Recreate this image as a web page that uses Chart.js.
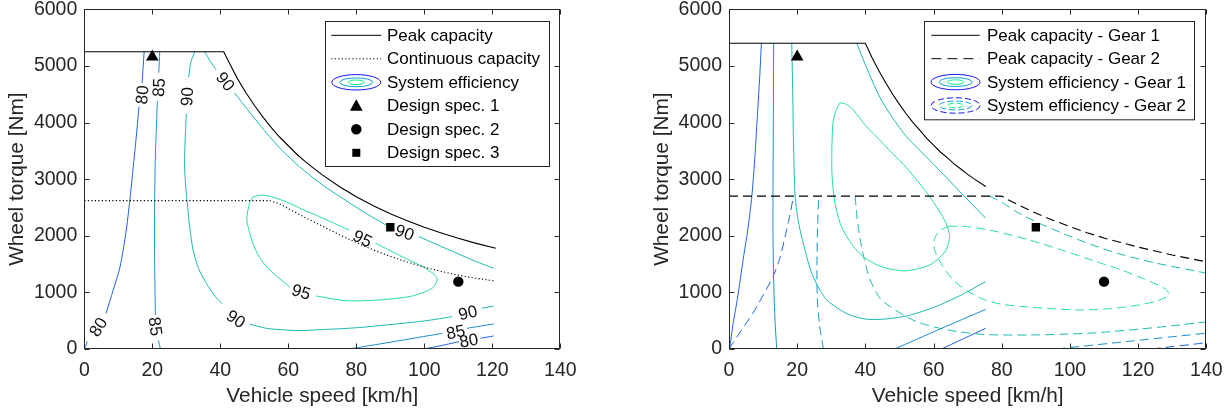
<!DOCTYPE html>
<html>
<head>
<meta charset="utf-8">
<script src="https://cdn.jsdelivr.net/npm/chart.js@4.4.1/dist/chart.umd.min.js"></script>
<style>
  body { margin: 0; background: #fff; width: 1232px; height: 411px; overflow: hidden; position: relative; }
  canvas { position: absolute; top: 0; }
</style>
</head>
<body>
<canvas id="leftChart" width="616" height="411" style="left:0"></canvas>
<canvas id="rightChart" width="616" height="411" style="left:616px"></canvas>
<script>
// axis ticks
const speedTicks = [0, 20, 40, 60, 80, 100, 120, 140];
const torqueTicks = [0, 1000, 2000, 3000, 4000, 5000, 6000];

// design specs [speed km/h, torque Nm]
const spec1 = [20, 5160];
const spec2 = [110, 1190];
const spec3 = [90, 2150];

// ---- left plot: single gear ----
const peakCap = [[0,5250],[41,5250],[43,5010],[45,4780],[47.5,4530],[50,4305],[52.5,4100],[55,3910],[57.5,3740],[60,3590],[62.5,3440],
  [65,3310],[67.5,3190],[70,3075],[75,2870],[80,2690],[85,2530],[90,2390],[95,2265],[100,2150],[105,2050],[110,1955],[115,1870],[121,1780]];
const contCap = [[0,2620],[54.5,2620],[57,2575],[60,2480],[65,2320],[70,2170],[75,2020],[80,1880],[85,1750],[90,1635],[95,1535],
  [100,1445],[105,1370],[110,1305],[115,1250],[121,1200]];

// efficiency contours (null = gap for a label / new piece)
const eff80 = [[0,0],[0.9,130],null,[6.4,630],[8.5,1040],[10.5,1450],[12.2,2040],[13.4,2630],[14.4,3220],[15.2,3700],[16.1,4280],null,
  [17.0,4700],[17.6,5250],null,[99.9,0],[105,60],[110.2,130],null,[116.5,190],[120.4,230]];
const eff85 = [[22.4,0],[21.8,150],null,[20.9,600],[20.7,1500],[20.7,2630],[20.9,3400],[21.2,3900],[21.5,4380],null,
  [21.9,4880],[22.2,5250],null,[77.9,0],[90,120],[105.3,277],null,[112.6,366],[120.4,442]];
const eff90 = [[32.5,5250],[31.3,5060],[30.7,4800],null,[30.0,4150],[29.6,3600],[29.5,3220],[29.8,2900],[30.2,2630],[31.0,2150],[32.0,1750],
  [33.6,1420],[35.9,1160],[38.5,930],[40.5,800],null,[48.6,440],[53.5,366],[58,340],[63.3,325],[69,340],[80,375],[88.7,424],[100,495],
  [108.2,571],null,[117,719],[120.4,760],null,
  [35.4,5250],[37,5090],[38.8,4930],null,[44.2,4520],[48,4230],[53.5,3820],[58,3520],[63.3,3220],[70,2900],[77,2620],[83,2390],[89.6,2160],null,
  [98.4,1985],[105,1810],[110,1680],[115,1550],[120.4,1426]];
const eff95 = [[49.6,2690],[52.5,2720],[55,2690],[59.4,2600],[64,2470],[69.1,2340],[73.5,2220],[77.9,2100],null,[85.7,1867],[93.5,1630],
  [100.4,1426],[103.2,1300],[103.8,1219],[102.3,1072],[96.5,936],[86.7,866],[77,853],[68.2,936],null,[60.3,1101],[54.5,1396],[51.5,1620],
  [49.6,1867],[47.8,2280],[48.6,2574],[49.6,2690]];

// contour labels [text, speed, torque, angle deg]
const effLabels = [
  ['80', 17.0, 4490, -85], ['85', 21.9, 4620, -88], ['90', 30.2, 4460, -88], ['90', 41.5, 4725, 52],
  ['80', 4.1, 390, -58], ['85', 20.9, 400, 82], ['90', 44.6, 530, 33], ['95', 81.8, 1950, 26],
  ['95', 63.8, 1010, 17], ['90', 94.2, 2060, 20], ['90', 112.8, 640, -14], ['85', 109.2, 300, -11],
  ['80', 113.1, 150, -10]
];

// ---- right plot: two gears ----
const peakG1 = [[0,5400],[40,5400],[42,5140],[44,4910],[46,4700],[48,4500],[50,4320],[52,4150],[54,4000],[56,3860],[58,3720],[60,3600],
  [62,3480],[64,3380],[66,3270],[68,3180],[70,3085],[72,3000],[75.3,2870]];
const peakG2 = [[0,2700],[80,2700],[82,2630],[85,2540],[88,2455],[90,2400],[95,2275],[100,2160],[105,2055],[110,1960],[115,1880],
  [120,1800],[125,1730],[130,1660],[135,1600],[140,1540]];

const g1eff80 = [[0.2,0],[1.2,450],[2.5,900],[4.2,1600],[5.5,2100],[6.7,2700],[7.6,3400],[8.2,4000],[9.0,4800],[9.5,5400],null,[62.3,0],[75.3,366]];
const g1eff85 = [[14.0,0],[13.5,500],[13.1,1200],[12.9,2000],[12.9,2700],[13.0,4000],[13.1,5400],null,[48.6,0],[61.8,350],[75.3,700]];
const g1eff90 = [[18.4,5400],[18.7,4500],[18.9,3700],[19.4,2700],[20.5,2200],[22.8,1630],[24.5,1300],[26.7,1040],[28.6,870],[32.6,690],
  [36,590],[40.4,525],[46,530],[52.1,583],[57,670],[61.8,777],[68,950],[75.3,1190],null,
  [37.5,5400],[40,5020],[44.2,4450],[48,4080],[52.1,3750],[58.9,3330],[65,2950],[70.1,2630],[75.3,2310]];
const g1eff95 = [[32.6,4350],[31.3,4200],[30.5,3990],[30.2,3600],[30.2,3100],[31,2600],[32.6,2220],[34.5,1990],[36.5,1810],[39,1650],
  [42.4,1515],[46,1430],[51,1380],[55,1410],[58.9,1485],[61.5,1600],[63.7,1750],[64.7,1985],[63.7,2220],[61.5,2450],[58.9,2690],
  [55.5,2950],[52.1,3200],[48,3450],[44.2,3690],[40,3950],[36.5,4220],[34.5,4320],[32.6,4350]];

const g2eff80 = [[0,0],[3.5,320],[7.1,640],[10,950],[13,1290],[15,1620],[16.5,2000],[17.8,2350],[18.9,2700],null,[124,0],[140,110]];
const g2eff85 = [[27.7,0],[26.6,400],[25.9,900],[25.8,1500],[26.0,2200],[26.3,2700],null,[96,0],[118,140],[140,280]];
const g2eff90 = [[37,2700],[37.6,2300],[38.5,1930],[39.8,1550],[41.4,1220],[44.2,900],[47,760],[52,571],[56,460],[61.8,366],[68,300],
  [75,255],[88,247],[100,265],[108,288],[120,350],[130,410],[140,480],null,
  [76.4,2700],[80,2590],[85,2400],[91,2220],[100,1990],[107,1830],[114.5,1680],[125,1520],[140,1340]];
const g2eff95 = [[64.7,2170],[62,2100],[60.3,1950],[60.3,1750],[62.5,1480],[65.7,1220],[70,1020],[74.5,880],[80,790],[88.1,740],[95,710],
  [102.8,690],[110,705],[117.4,750],[125,840],[129.1,950],[128,1060],[122,1230],[115,1400],[107.7,1543],[98,1740],[88.1,1926],
  [78,2080],[70,2160],[64.7,2170]];

const legendLeft = ['Peak capacity', 'Continuous capacity', 'System efficiency', 'Design spec. 1', 'Design spec. 2', 'Design spec. 3'];
const legendRight = ['Peak capacity - Gear 1', 'Peak capacity - Gear 2', 'System efficiency - Gear 1', 'System efficiency - Gear 2'];

// ------------------------------------------------------------------
const FONT = '"Liberation Sans", Arial, Helvetica, sans-serif';
const AX = '#262626';
const C80 = '#1a62e4', C85 = '#1790cc', C90 = '#19b8b2', C95 = '#24df9c';
const DOT = [1.2, 2.3], DASH = [9, 5];

function pts(arr) {
  return arr.map((p, i) => p ? {x: p[0], y: p[1]} : {x: arr[i - 1][0], y: null});
}
function line(arr, color, dash, width, tension) {
  return {data: pts(arr), showLine: true, borderColor: color, borderWidth: width || 1, borderDash: dash || [],
    pointRadius: 0, pointHoverRadius: 0, tension: tension === undefined ? 0.25 : tension, fill: false};
}
function marker(p, style, r) {
  return {data: [{x: p[0], y: p[1]}], showLine: false, pointStyle: style, pointRadius: r,
    backgroundColor: '#000', borderColor: '#000', borderWidth: 0};
}

function drawIcon(ctx, icon, x0, x1, cy) {
  const cx = (x0 + x1) / 2;
  ctx.save();
  ctx.lineWidth = 1;
  ctx.strokeStyle = '#000';
  ctx.fillStyle = '#000';
  if (icon === 'solid' || icon === 'dotted' || icon === 'dashed') {
    ctx.setLineDash(icon === 'dotted' ? DOT : icon === 'dashed' ? [10, 6] : []);
    ctx.beginPath(); ctx.moveTo(x0, cy); ctx.lineTo(x1, cy); ctx.stroke();
  } else if (icon === 'ell' || icon === 'ellDash') {
    ctx.setLineDash(icon === 'ellDash' ? [6, 3] : []);
    [[24.5, 7.7, '#1414f2'], [16.5, 4.4, '#14a0d6'], [8, 2.3, '#14ee90']].forEach(([rx, ry, c]) => {
      ctx.strokeStyle = c;
      ctx.beginPath(); ctx.ellipse(cx, cy, rx, ry, 0, 0, Math.PI * 2); ctx.stroke();
    });
  } else if (icon === 'tri') {
    ctx.beginPath(); ctx.moveTo(cx, cy - 6.5); ctx.lineTo(cx + 6.4, cy + 5); ctx.lineTo(cx - 6.4, cy + 5); ctx.closePath(); ctx.fill();
  } else if (icon === 'circ') {
    ctx.beginPath(); ctx.arc(cx, cy, 5.2, 0, Math.PI * 2); ctx.fill();
  } else if (icon === 'sq') {
    ctx.fillRect(cx - 4, cy - 4, 8, 8);
  }
  ctx.restore();
}

const axesBox = {
  id: 'axesBox',
  afterDraw(chart) {
    const {ctx, chartArea: a, scales: {x, y}} = chart;
    ctx.save();
    ctx.strokeStyle = AX;
    ctx.lineWidth = 1;
    const L = Math.round(a.left) + 0.5, R = Math.round(a.right) - 0.5, T = Math.round(a.top) + 0.5, B = Math.round(a.bottom) - 0.5;
    ctx.strokeRect(L, T, R - L, B - T);
    ctx.beginPath();
    speedTicks.forEach(v => {
      const px = Math.round(x.getPixelForValue(v)) + 0.5;
      ctx.moveTo(px, B); ctx.lineTo(px, B - 5);
      ctx.moveTo(px, T); ctx.lineTo(px, T + 5);
    });
    torqueTicks.forEach(v => {
      const py = Math.round(y.getPixelForValue(v)) + 0.5;
      ctx.moveTo(L, py); ctx.lineTo(L + 5, py);
      ctx.moveTo(R, py); ctx.lineTo(R - 5, py);
    });
    ctx.stroke();
    ctx.restore();
  }
};

const contourLabels = {
  id: 'contourLabels',
  afterDatasetsDraw(chart, args, opts) {
    const {ctx, scales: {x, y}} = chart;
    ctx.save();
    ctx.font = '17px ' + FONT;
    ctx.fillStyle = '#111';
    ctx.textAlign = 'center';
    ctx.textBaseline = 'middle';
    (opts.labels || []).forEach(([t, sx, ty, ang]) => {
      ctx.save();
      ctx.translate(x.getPixelForValue(sx), y.getPixelForValue(ty));
      ctx.rotate(ang * Math.PI / 180);
      ctx.fillText(t, 0, 1);
      ctx.restore();
    });
    ctx.restore();
  }
};

const boxLegend = {
  id: 'boxLegend',
  afterDatasetsDraw(chart, args, o) {
    if (!o.items) return;
    const {ctx, chartArea: a} = chart;
    const left = Math.round(a.right - o.right - o.width), top = Math.round(a.top + o.top);
    ctx.save();
    ctx.fillStyle = '#fff';
    ctx.fillRect(left, top, o.width, o.height);
    ctx.strokeStyle = AX;
    ctx.lineWidth = 1;
    ctx.strokeRect(left + 0.5, top + 0.5, o.width, o.height);
    ctx.font = '17px ' + FONT;
    ctx.textBaseline = 'middle';
    o.items.forEach((text, i) => {
      const cy = top + o.first + i * o.step;
      drawIcon(ctx, o.icons[i], left + o.sx0, left + o.sx1, cy);
      ctx.fillStyle = '#000';
      ctx.fillText(text, left + o.tx, cy + 1);
    });
    ctx.restore();
  }
};

function makeChart(id, cfg) {
  return new Chart(document.getElementById(id), {
    type: 'scatter',
    data: {datasets: cfg.datasets},
    options: {
      responsive: false,
      animation: false,
      devicePixelRatio: 1,
      layout: {padding: {left: 0, top: 9.3, right: cfg.padRight, bottom: 0}},
      plugins: {
        legend: {display: false},
        tooltip: {enabled: false},
        contourLabels: {labels: cfg.labels},
        boxLegend: cfg.legend
      },
      scales: {
        x: {
          type: 'linear', min: speedTicks[0], max: speedTicks[speedTicks.length - 1],
          afterBuildTicks: s => { s.ticks = speedTicks.map(v => ({value: v})); },
          afterFit: s => { s.height = 62; s.paddingLeft = 0; s.paddingRight = 0; },
          grid: {display: false, drawTicks: false},
          border: {display: false},
          ticks: {color: AX, font: {family: FONT, size: 19.5}, padding: 10, maxRotation: 0, autoSkip: false,
            callback: v => String(v)},
          title: {display: true, text: 'Vehicle speed [km/h]', color: AX, font: {family: FONT, size: 20.8},
            padding: {top: 0, bottom: 2}}
        },
        y: {
          type: 'linear', min: torqueTicks[0], max: torqueTicks[torqueTicks.length - 1],
          afterBuildTicks: s => { s.ticks = torqueTicks.map(v => ({value: v})); },
          afterFit: s => { s.width = cfg.yWidth; s.paddingTop = 0; s.paddingBottom = 0; },
          grid: {display: false, drawTicks: false},
          border: {display: false},
          ticks: {color: AX, font: {family: FONT, size: 19.5}, padding: 7, autoSkip: false,
            callback: v => String(v)},
          title: {display: true, text: 'Wheel torque [Nm]', color: AX, font: {family: FONT, size: 20.8},
            padding: {top: cfg.yTitlePad, bottom: 0}}
        }
      }
    },
    plugins: [axesBox, contourLabels, boxLegend]
  });
}

makeChart('leftChart', {
  padRight: 616 - 560.3,
  yWidth: 84.3,
  yTitlePad: 4.5,
  labels: effLabels,
  legend: {
    items: legendLeft, icons: ['solid', 'dotted', 'ell', 'tri', 'circ', 'sq'],
    width: 224, height: 145, right: 11, top: 11.4, first: 14.3, step: 23.5, sx0: 6.3, sx1: 56.3, tx: 62
  },
  datasets: [
    marker(spec1, 'triangle', 7.3),
    marker(spec2, 'circle', 5.2),
    marker(spec3, 'rect', 5.9),
    line(peakCap, '#000', [], 1.1, 0),
    line(contCap, '#000', DOT, 1.1, 0),
    line(eff95, C95),
    line(eff90, C90),
    line(eff85, C85),
    line(eff80, C80)
  ]
});

makeChart('rightChart', {
  padRight: 616 - 590.3,
  yWidth: 113,
  yTitlePad: 33.5,
  labels: [],
  legend: {
    items: legendRight, icons: ['solid', 'dashed', 'ell', 'ellDash'],
    width: 270, height: 98.3, right: 12, top: 11.4, first: 14.3, step: 23.4, sx0: 7.4, sx1: 55.7, tx: 63
  },
  datasets: [
    marker(spec1, 'triangle', 7.3),
    marker(spec2, 'circle', 5.2),
    marker(spec3, 'rect', 5.9),
    line(peakG1, '#000', [], 1.1, 0),
    line(peakG2, '#000', DASH, 1.1, 0),
    line(g1eff95, C95),
    line(g1eff90, C90),
    line(g1eff85, C85),
    line(g1eff80, C80),
    line(g2eff95, C95, DASH),
    line(g2eff90, C90, DASH),
    line(g2eff85, C85, DASH),
    line(g2eff80, C80, DASH)
  ]
});
</script>
</body>
</html>
